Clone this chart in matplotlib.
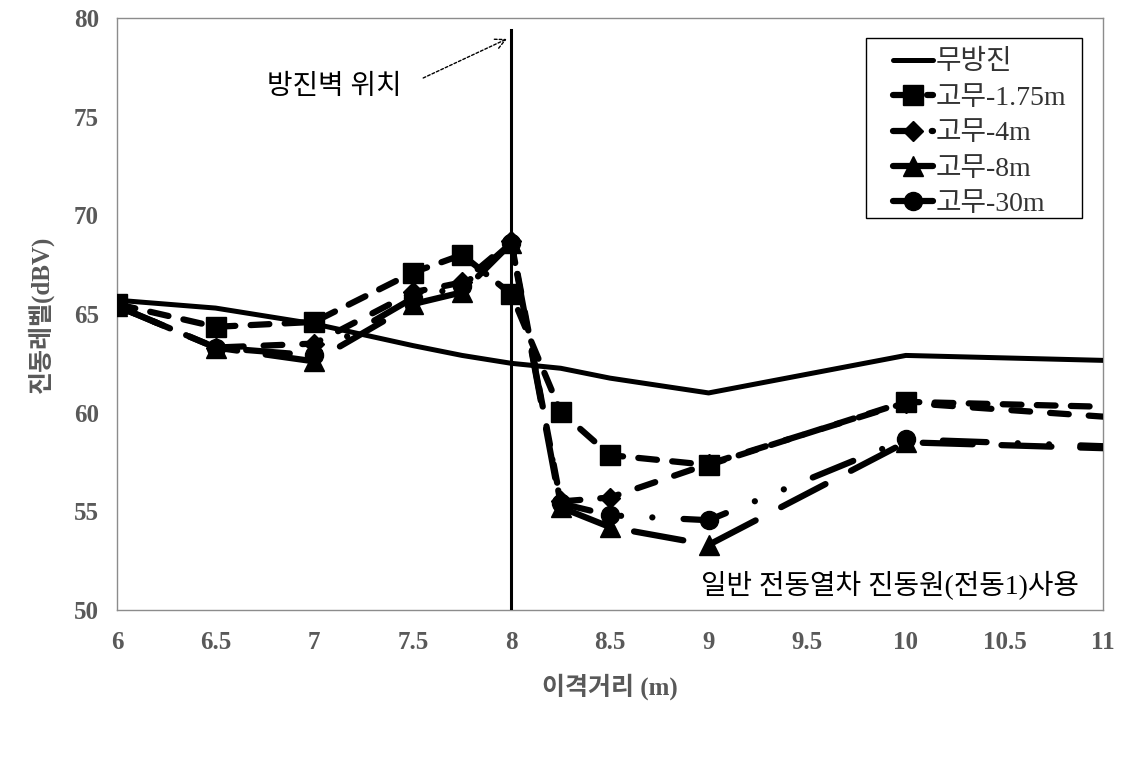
import matplotlib
matplotlib.use("Agg")
import matplotlib.pyplot as plt
from matplotlib.patches import Rectangle

# ---- data ----
x = [6, 6.5, 7, 7.5, 7.75, 8, 8.25, 8.5, 9, 10, 11]
no_wall = [65.7, 65.3, 64.5, 63.4, 62.9, 62.5, 62.25, 61.75, 61.0, 62.9, 62.65]
rubber_175 = [65.5, 64.35, 64.6, 67.1, 68.0, 66.0, 60.05, 57.85, 57.35, 60.55, 60.3]
rubber_4 = [65.4, 63.3, 63.5, 66.1, 66.6, 68.7, 55.5, 55.7, 57.4, 60.5, 59.8]
rubber_8 = [65.4, 63.3, 62.6, 65.5, 66.1, 68.6, 55.2, 54.2, 53.3, 58.5, 58.2]
rubber_30 = [65.4, 63.3, 62.9, 65.8, 66.4, 68.6, 55.4, 54.8, 54.55, 58.65, 58.3]
labels = ["무방진", "고무-1.75m", "고무-4m", "고무-8m", "고무-30m"]
xticks = [6, 6.5, 7, 7.5, 8, 8.5, 9, 9.5, 10, 10.5, 11]
yticks = [50, 55, 60, 65, 70, 75, 80]

MIX = ["Liberation Serif", "Noto Sans CJK KR"]
GRAY = "#595959"

fig = plt.figure(figsize=(11.31, 7.69), dpi=100)
ax = fig.add_axes([117/1131, (769-610)/769, 986/1131, 592/769])

lw = 4.5
mk = list(range(len(x) - 1))
h0, = ax.plot(x, no_wall, color="black", lw=3.6, solid_capstyle="round", zorder=3, label=labels[0])
h4, = ax.plot(x, rubber_4, color="black", lw=lw, dashes=(3, 3.2), dash_capstyle="round",
              marker="D", ms=10, markevery=mk, zorder=4, label=labels[2])
h8, = ax.plot(x, rubber_8, color="black", lw=lw, dashes=(8, 4.6), dash_capstyle="round",
              marker="^", ms=15, markevery=mk, zorder=5, label=labels[3])
h30, = ax.plot(x, rubber_30, color="black", lw=lw, dashes=(7, 5, 0.01, 5, 0.01, 5),
               dash_capstyle="round", marker="o", ms=13, markevery=mk, zorder=6, label=labels[4])
h175, = ax.plot(x, rubber_175, color="black", lw=lw, dashes=(3, 2.45), dash_capstyle="round",
                marker="s", ms=14, markevery=mk, zorder=7, label=labels[1])

# wall position line
ax.plot([8, 8], [50, 79.4], color="black", lw=2.2, zorder=8)
ax.annotate("", xy=(7.99, 79.0), xytext=(7.54, 76.9),
            arrowprops=dict(arrowstyle="->", lw=1.0, linestyle=(0, (2, 1.5)), color="black",
                            mutation_scale=18))
ax.text(7.1, 76.5, "방진벽 위치", family=MIX, fontsize=20, ha="center", va="center",
        color="black")
ax.text(9.92, 51.25, "일반 전동열차 진동원(전동1)사용", family=MIX, fontsize=20,
        ha="center", va="center", color="black")

ax.set_xlim(6, 11)
ax.set_ylim(50, 80)
ax.set_xticks(xticks)
ax.set_xticklabels([f"{t:g}" for t in xticks])
ax.set_yticks(yticks)
ax.tick_params(axis="x", length=0, pad=15, labelcolor=GRAY)
ax.tick_params(axis="y", length=0, pad=13, labelcolor=GRAY)
for t in ax.get_xticklabels() + ax.get_yticklabels():
    t.set_fontfamily("Liberation Serif")
    t.set_fontweight("bold")
    t.set_fontsize(18)
for s in ax.spines.values():
    s.set_color("#8c8c8c")
    s.set_linewidth(1.0)

ax.set_xlabel("이격거리 (m)", family=MIX, fontsize=18, fontweight="bold", color=GRAY, labelpad=14)
ax.set_ylabel("진동레벨(dBV)", family=MIX, fontsize=18, fontweight="bold", color=GRAY, labelpad=14)

# legend box (frame drawn separately to match the wide side padding)
ax.add_patch(Rectangle(((866-117)/986, 1-(218-18)/592), 216/986, 180/592,
                       transform=ax.transAxes, facecolor="white", edgecolor="black",
                       lw=1.0, zorder=9, clip_on=False))
leg = ax.legend(handles=[h0, h175, h4, h8, h30], loc="upper left",
                bbox_to_anchor=((893-117)/986, 1-(50-18)/592), frameon=False,
                prop={"family": MIX, "size": 20}, handlelength=1.45, handletextpad=0.1,
                labelspacing=0.36, borderpad=0, borderaxespad=0)
leg.set_zorder(10)
for t in leg.get_texts():
    t.set_color("#333333")

fig.savefig("out.png", dpi=100)
